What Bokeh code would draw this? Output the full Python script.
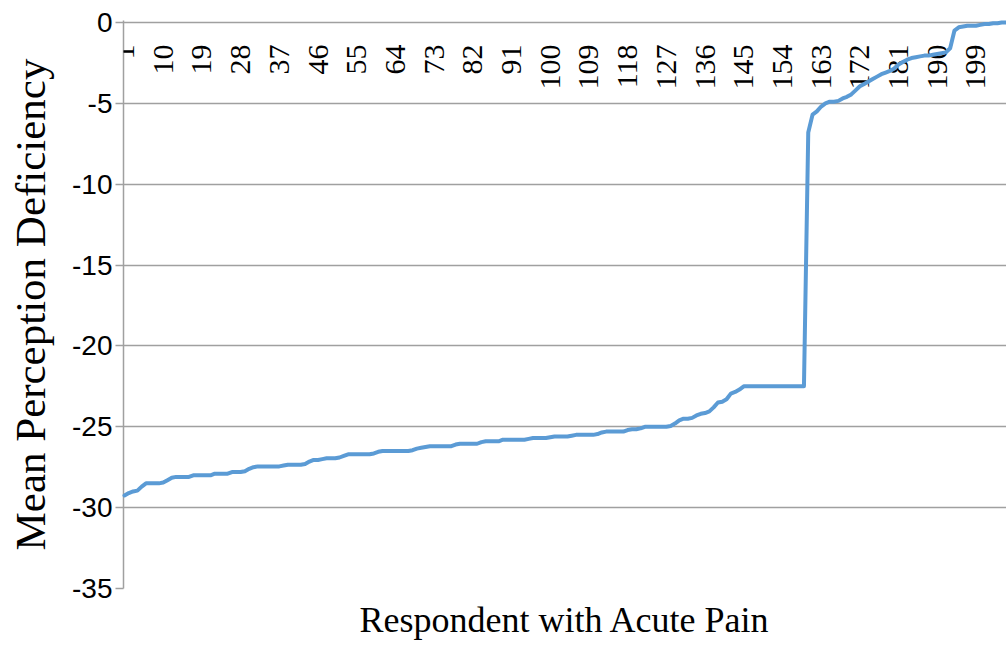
import math
from bokeh.plotting import figure
from bokeh.models import Range1d, FixedTicker, ColumnDataSource, LabelSet
from bokeh.embed import file_html
from bokeh.resources import INLINE

# ---- data ----
respondents = list(range(1, 207))
deficiency = [
    -29.25, -29.1, -29.0, -28.95, -28.7, -28.5, -28.5, -28.5, -28.5, -28.45,
    -28.3, -28.15, -28.1, -28.1, -28.1, -28.1, -28.0, -28.0, -28.0, -28.0,
    -28.0, -27.9, -27.9, -27.9, -27.9, -27.8, -27.8, -27.8, -27.75, -27.6,
    -27.5, -27.45, -27.45, -27.45, -27.45, -27.45, -27.45, -27.4, -27.35, -27.35,
    -27.35, -27.35, -27.3, -27.15, -27.05, -27.05, -27.0, -26.95, -26.95, -26.95,
    -26.9, -26.8, -26.7, -26.7, -26.7, -26.7, -26.7, -26.7, -26.65, -26.55,
    -26.5, -26.5, -26.5, -26.5, -26.5, -26.5, -26.5, -26.45, -26.35, -26.3,
    -26.25, -26.2, -26.2, -26.2, -26.2, -26.2, -26.2, -26.1, -26.05, -26.05,
    -26.05, -26.05, -26.05, -25.95, -25.9, -25.9, -25.9, -25.9, -25.8, -25.8,
    -25.8, -25.8, -25.8, -25.8, -25.75, -25.7, -25.7, -25.7, -25.7, -25.65,
    -25.6, -25.6, -25.6, -25.6, -25.55, -25.5, -25.5, -25.5, -25.5, -25.5,
    -25.45, -25.35, -25.3, -25.3, -25.3, -25.3, -25.3, -25.2, -25.15, -25.15,
    -25.1, -25.0, -25.0, -25.0, -25.0, -25.0, -25.0, -24.95, -24.8, -24.6,
    -24.5, -24.5, -24.45, -24.3, -24.2, -24.15, -24.05, -23.8, -23.5, -23.45,
    -23.3, -22.95, -22.85, -22.7, -22.5, -22.5, -22.5, -22.5, -22.5, -22.5,
    -22.5, -22.5, -22.5, -22.5, -22.5, -22.5, -22.5, -22.5, -22.5, -6.8,
    -5.7, -5.5, -5.2, -5.0, -4.9, -4.9, -4.85, -4.7, -4.6, -4.45,
    -4.2, -3.95, -3.8, -3.65, -3.5, -3.35, -3.2, -3.1, -3.0, -2.85,
    -2.6, -2.45, -2.3, -2.2, -2.15, -2.1, -2.05, -2.05, -2.0, -1.95,
    -1.9, -1.85, -1.6, -0.5, -0.3, -0.25, -0.2, -0.2, -0.2, -0.15,
    -0.1, -0.1, -0.05, -0.05, 0.0, 0.0,
]
x_tick_labels = [1, 10, 19, 28, 37, 46, 55, 64, 73, 82, 91, 100, 109, 118,
                 127, 136, 145, 154, 163, 172, 181, 190, 199]
y_ticks = [-35, -30, -25, -20, -15, -10, -5, 0]
x_title = "Respondent with Acute Pain"
y_title = "Mean Perception Deficiency"

GRAY = "#A0A0A0"

p = figure(width=1006, height=645, output_backend="svg", toolbar_location=None,
           x_range=Range1d(0.77, 206.1), y_range=Range1d(-35, 0.12),
           min_border_left=123, min_border_right=0, min_border_top=20,
           min_border_bottom=57)
p.outline_line_color = None
p.background_fill_color = "white"
p.border_fill_color = "white"

p.xgrid.visible = False
p.ygrid.ticker = FixedTicker(ticks=y_ticks)
p.ygrid.grid_line_color = GRAY
p.ygrid.grid_line_width = 1.5

ya = p.yaxis[0]
ya.ticker = FixedTicker(ticks=y_ticks)
ya.major_label_overrides = {t: str(t) for t in y_ticks}
ya.axis_line_color = GRAY
ya.axis_line_width = 1.5
ya.major_tick_line_color = GRAY
ya.major_tick_line_width = 1.5
ya.major_tick_out = 8
ya.major_tick_in = 0
ya.minor_tick_line_color = None
ya.major_label_text_font = "Liberation Sans"
ya.major_label_text_font_size = "28px"
ya.major_label_text_color = "#000000"
ya.major_label_standoff = 3
ya.axis_label = y_title
ya.axis_label_text_font = "Liberation Serif"
ya.axis_label_text_font_size = "43px"
ya.axis_label_text_font_style = "normal"
ya.axis_label_text_color = "#000000"
ya.axis_label_standoff = 15

xa = p.xaxis[0]
xa.ticker = FixedTicker(ticks=[])
xa.axis_line_color = None
xa.major_tick_line_color = None
xa.minor_tick_line_color = None
xa.axis_label = x_title
xa.axis_label_text_font = "Liberation Serif"
xa.axis_label_text_font_size = "36px"
xa.axis_label_text_font_style = "normal"
xa.axis_label_text_color = "#000000"
xa.axis_label_standoff = 11

lab_src = ColumnDataSource(dict(x=x_tick_labels, y=[0] * len(x_tick_labels),
                                t=[str(v) for v in x_tick_labels]))
labels = LabelSet(x="x", y="y", text="t", source=lab_src, angle=math.pi / 2,
                  text_align="right", text_baseline="middle", y_offset=-22,
                  text_font="Liberation Sans", text_font_size="30px",
                  text_color="#000000", level="annotation")
p.add_layout(labels)

p.line(x=respondents, y=deficiency, line_color="#5B9BD5", line_width=4,
       line_join="round", line_cap="round", level="overlay")

open("out.html", "w").write(file_html(p, INLINE))
